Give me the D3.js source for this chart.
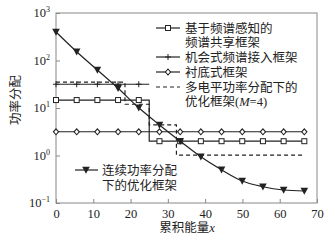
<!DOCTYPE html>
<html><head><meta charset="utf-8">
<script src="https://cdn.jsdelivr.net/npm/d3@7"></script>
<style>
body{margin:0;background:#fff;}
text{font-family:"Liberation Serif","DejaVu Serif","Noto Sans CJK SC",serif;fill:#222;}
.cjk{font-family:"Liberation Serif","Noto Sans CJK SC",serif;}
</style></head>
<body><svg id="c" width="330" height="241"></svg>
<script>
// ---- data ----
const xGrid = [0,5.55,11.1,16.65,22.2,27.75,33.3,38.85,44.4,49.95,55.5,61.05,66.6];
const continuousVals = [398,153,63,26,10.1,4.4,2.0,0.94,0.50,0.29,0.22,0.188,0.179];
const sensingStepX = [0,25,25,66.6];
const sensingStepY = [14.7,14.7,2.0,2.0];
const opportunisticX = [0,25];
const opportunisticY = [31.6,31.6];
const underlayX = [0,66.6];
const underlayY = [3.16,3.16];
const multiLevelX = [0,18.5,18.5,25,25,32.3,32.3,66.6];
const multiLevelY = [35,35,12,12,4.4,4.4,1.02,1.02];
const xTicks = [0,10,20,30,40,50,60,70];
const yTickExps = [-1,0,1,2,3];
const legendLabels = [["基于频谱感知的","频谱共享框架"],["机会式频谱接入框架"],["衬底式框架"],["多电平功率分配下的","优化框架(M=4)"]];
const continuousLabel = ["连续功率分配","下的优化框架"];

const svg = d3.select("#c");
const L=56,R=317,T=13,B=203;
const x = d3.scaleLinear().domain([0,70]).range([L,R]);
const y = d3.scaleLog().domain([0.1,1000]).range([B,T]);
const ink="#222";

// frame
svg.append("rect").attr("x",L).attr("y",T).attr("width",R-L).attr("height",B-T)
  .attr("fill","none").attr("stroke","#888").attr("stroke-width",1);

// axes (ticks inward)
const gx = svg.append("g").attr("transform",`translate(0,${B})`)
  .call(d3.axisBottom(x).tickValues(xTicks).tickSize(-4).tickPadding(6).tickFormat(d3.format("d")));
gx.select(".domain").remove();
gx.selectAll("line").attr("stroke","#888");
gx.selectAll("text").attr("font-size",12.5).attr("fill",ink)
  .style("font-family","'Liberation Serif',serif");

const gy = svg.append("g").attr("transform",`translate(${L},0)`)
  .call(d3.axisLeft(y).tickValues(yTickExps.map(e=>Math.pow(10,e))).tickSize(-4).tickPadding(5).tickFormat(""));
gy.select(".domain").remove();
gy.selectAll("line").attr("stroke","#888");
yTickExps.forEach(e=>{
  const t = svg.append("text").attr("x",L-6).attr("y",y(Math.pow(10,e))+4)
    .attr("text-anchor","end").attr("font-size",12.5);
  t.append("tspan").text("10");
  t.append("tspan").attr("dy",-5).attr("font-size",8).text(String(e).replace("-","−"));
});

// axis titles
svg.append("text").attr("transform",`translate(20,100) rotate(-90)`).attr("text-anchor","middle")
  .attr("font-size",12.5).attr("class","cjk").text("功率分配");
const xl = svg.append("text").attr("x",187).attr("y",232).attr("text-anchor","middle").attr("font-size",12.5).attr("class","cjk");
xl.append("tspan").text("累积能量");
xl.append("tspan").attr("font-style","italic").text("x");

const line = d3.line().x(d=>x(d[0])).y(d=>y(d[1]));
const zip=(a,b)=>a.map((v,i)=>[v,b[i]]);

// markers
function marker(g,type,cx,cy){
  if(type==="square") g.append("rect").attr("x",cx-2.5).attr("y",cy-2.5).attr("width",5).attr("height",5)
      .attr("fill","#fff").attr("stroke",ink).attr("stroke-width",1);
  else if(type==="diamond") g.append("path").attr("d",`M${cx},${cy-3}L${cx+2.6},${cy}L${cx},${cy+3}L${cx-2.6},${cy}Z`)
      .attr("fill","#fff").attr("stroke",ink).attr("stroke-width",1.1);
  else if(type==="plus") g.append("path").attr("d",`M${cx},${cy-3}V${cy+3}M${cx-3},${cy}H${cx+3}`)
      .attr("stroke",ink).attr("stroke-width",1);
  else if(type==="tri") g.append("path").attr("d",`M${cx-3.8},${cy-3.2}L${cx+3.8},${cy-3.2}L${cx},${cy+3.8}Z`)
      .attr("fill",ink);
}

const g = svg.append("g");
// underlay
g.append("path").attr("d",line(zip(underlayX,underlayY))).attr("fill","none").attr("stroke",ink).attr("stroke-width",1.2);
xGrid.forEach(v=>marker(g,"diamond",x(v),y(underlayY[0])));
// sensing-based step
g.append("path").attr("d",line(zip(sensingStepX,sensingStepY))).attr("fill","none").attr("stroke",ink).attr("stroke-width",1.2);
xGrid.forEach(v=>marker(g,"square",x(v),y(v<sensingStepX[1]?sensingStepY[0]:sensingStepY[2])));
// opportunistic
g.append("path").attr("d",line(zip(opportunisticX,opportunisticY))).attr("fill","none").attr("stroke",ink).attr("stroke-width",1.2);
xGrid.filter(v=>v<opportunisticX[1]).forEach(v=>marker(g,"plus",x(v),y(opportunisticY[0])));
// multi-level dashed
g.append("path").attr("d",line(zip(multiLevelX,multiLevelY))).attr("fill","none").attr("stroke",ink)
  .attr("stroke-width",1.2).attr("stroke-dasharray","4,3");
// continuous
g.append("path").attr("d",line.curve(d3.curveMonotoneX)(zip(xGrid,continuousVals))).attr("fill","none").attr("stroke",ink).attr("stroke-width",1.2);
line.curve(d3.curveLinear);
xGrid.forEach((v,i)=>marker(g,"tri",x(v),y(continuousVals[i])));

// legend (top right)
const lg = svg.append("g");
const rows=[{t:"square",y:28,lab:legendLabels[0]},{t:"plus",y:57,lab:legendLabels[1]},{t:"diamond",y:72,lab:legendLabels[2]},{t:"dash",y:87,lab:legendLabels[3]}];
rows.forEach(r=>{
  const ln = lg.append("line").attr("x1",156).attr("x2",180).attr("y1",r.y).attr("y2",r.y).attr("stroke",ink).attr("stroke-width",1.2);
  if(r.t==="dash") ln.attr("stroke-dasharray","4,3"); else marker(lg,r.t,168,r.y);
  r.lab.forEach((s,i)=>{
    const t = lg.append("text").attr("x",185).attr("y",r.y+4.5+i*14.5).attr("font-size",12.5).attr("class","cjk");
    const m = s.match(/^(.*\()M(=4\))$/);
    if(m){ t.append("tspan").text(m[1]); t.append("tspan").attr("font-style","italic").text("M"); t.append("tspan").text(m[2]); }
    else t.text(s);
  });
});
// continuous legend (bottom left)
lg.append("line").attr("x1",75).attr("x2",98).attr("y1",170).attr("y2",170).attr("stroke",ink).attr("stroke-width",1.2);
marker(lg,"tri",86,170);
continuousLabel.forEach((s,i)=>lg.append("text").attr("x",102).attr("y",174.5+i*15).attr("font-size",12.5).attr("class","cjk").text(s));
</script></body></html>
